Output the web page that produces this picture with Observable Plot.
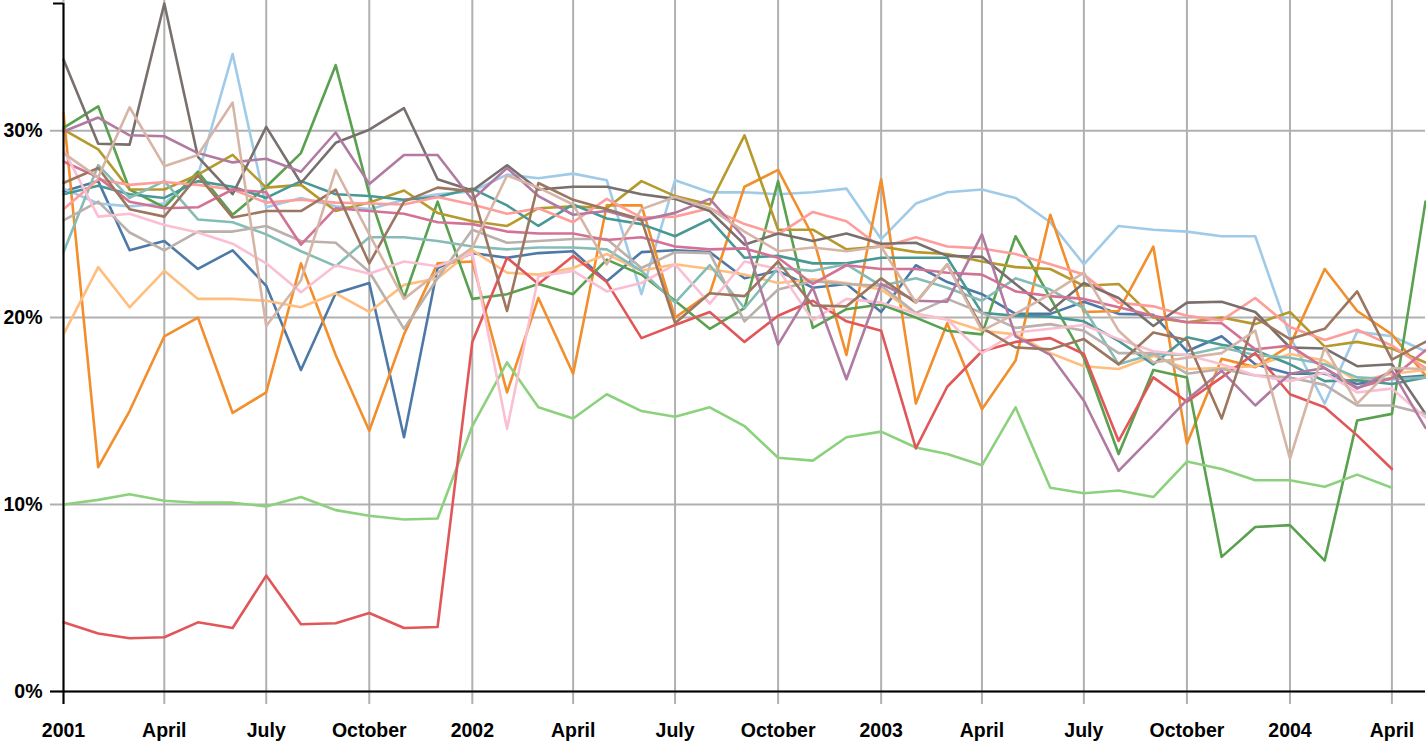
<!DOCTYPE html>
<html>
<head>
<meta charset="utf-8">
<script src="https://cdn.jsdelivr.net/npm/d3@7"></script>
<script src="https://cdn.jsdelivr.net/npm/@observablehq/plot@0.6"></script>
<style>
  html, body { margin: 0; padding: 0; background: #fff; }
  #chart svg { display: block; }
  #chart svg text { font-size: 19.5px; font-weight: bold; fill: #000; font-family: 'Liberation Sans', Arial, Helvetica, sans-serif; }
</style>
</head>
<body>
<div id="chart"></div>
<script>
// ---- data (percent values, monthly Jan 2001 .. May 2004) ----
const startMonth = "2001-01-01";
const endMonth = "2004-05-01";

const tickLabels = ["2001","April","July","October","2002","April","July","October","2003","April","July","October","2004","April"];
const yTicks = [0, 10, 20, 30];

const blue = [26.75,27.3,23.6,24.1,22.6,23.6,21.7,17.2,21.3,21.85,13.6,22.65,23.45,23.2,23.45,23.55,21.95,23.5,23.6,23.5,22.1,22.5,21.6,21.8,20.3,22.8,21.9,21.25,20.2,20.2,20.85,20.2,20.15,18.2,19.0,17.5,17.0,17.0,16.45,16.75,16.9];
const lightBlue = [26.9,26.1,25.95,26.1,27.6,34.1,25.9,26.4,25.95,25.8,26.3,26.6,26.75,27.65,27.45,27.7,27.35,21.25,27.35,26.7,26.7,26.6,26.7,26.9,24.2,26.1,26.7,26.85,26.4,25.1,22.85,24.9,24.7,24.6,24.35,24.35,19.0,15.4,19.25,19.0,18.2];
const orange = [30.95,12.0,15.0,19.0,20.0,14.9,16.0,22.9,18.0,13.95,19.1,22.9,23.0,16.0,21.05,17.0,26.0,26.0,20.0,21.3,27.0,27.9,24.35,18.0,27.4,15.4,19.7,15.1,17.7,25.5,20.3,20.35,23.8,13.25,17.8,17.35,18.5,22.6,20.35,19.1,16.9];
const lightOrange = [19.1,22.7,20.55,22.5,21.0,21.0,20.9,20.55,21.3,20.3,21.75,22.1,23.6,22.4,22.3,22.65,23.4,22.5,22.85,22.6,22.3,21.85,22.05,21.85,21.5,20.2,19.9,19.3,19.1,18.1,17.4,17.25,17.95,17.25,17.3,17.4,18.05,17.7,16.6,17.0,17.2];
const green = [30.15,31.3,26.85,25.9,27.8,25.5,27.0,28.8,33.5,26.6,21.05,26.2,21.0,21.25,21.8,21.25,23.1,22.3,20.9,19.4,20.5,27.3,19.45,20.45,20.7,20.0,19.3,19.1,24.35,21.05,17.85,12.7,17.2,16.8,7.2,8.8,8.9,7.0,14.5,14.85,26.2];
const lightGreen = [10.0,10.25,10.55,10.2,10.1,10.1,9.9,10.4,9.7,9.4,9.2,9.25,14.2,17.6,15.2,14.6,15.9,15.0,14.7,15.2,14.2,12.5,12.35,13.6,13.9,13.05,12.7,12.1,15.2,10.9,10.6,10.75,10.4,12.3,11.9,11.3,11.3,10.95,11.6,10.9];
const olive = [30.05,29.0,26.85,26.85,27.65,28.7,26.95,27.1,25.7,26.15,26.8,25.6,25.15,24.9,25.85,25.95,25.85,27.3,26.5,26.05,29.75,24.7,24.7,23.65,23.8,23.5,23.4,23.0,22.7,22.6,21.7,21.8,20.0,19.75,20.0,19.65,20.3,18.45,18.7,18.35,17.6];
const teal = [26.6,27.05,26.6,26.4,27.3,27.0,26.4,27.3,26.6,26.5,26.3,26.45,26.9,26.0,24.9,26.05,25.3,25.0,24.35,25.25,23.2,23.3,22.9,22.9,23.2,23.2,23.2,20.25,20.1,20.05,19.8,18.75,17.5,18.95,18.55,18.25,17.5,16.6,16.65,16.45,16.8];
const lightTeal = [23.5,28.15,26.4,27.3,25.25,25.1,24.45,23.55,22.75,24.3,24.3,24.1,23.8,23.65,23.75,23.75,23.65,22.5,20.8,22.8,20.5,22.65,22.5,22.85,21.7,22.1,21.6,20.9,22.1,21.5,20.5,17.5,18.05,18.0,18.4,18.0,17.85,17.5,16.8,16.7,16.8];
const red = [3.7,3.1,2.85,2.9,3.7,3.4,6.2,3.6,3.65,4.2,3.4,3.45,18.7,23.2,21.8,23.3,21.9,18.9,19.6,20.3,18.7,20.1,20.9,19.8,19.3,13.0,16.3,18.2,18.7,18.9,18.05,13.4,16.8,15.5,16.8,18.1,15.9,15.2,13.7,11.9];
const salmon = [25.8,27.4,27.1,27.25,27.1,26.85,26.15,26.3,26.15,26.1,26.05,26.45,26.05,25.55,25.85,25.1,26.35,25.35,25.4,25.85,25.0,24.45,25.65,25.15,23.75,24.3,23.8,23.7,23.4,22.85,22.3,20.8,20.6,20.1,19.85,21.05,19.5,18.8,19.35,18.5,17.3];
const gray = [33.8,29.3,29.25,36.8,28.6,26.6,30.2,27.2,29.35,30.05,31.2,27.4,26.8,28.15,26.85,27.0,27.0,26.6,26.35,25.7,23.9,24.5,24.1,24.5,23.95,24.0,23.3,23.25,21.8,20.35,21.85,21.05,19.55,20.8,20.85,20.3,18.4,18.35,17.4,17.5,14.85];
const lightGray = [25.2,26.2,24.55,23.6,24.6,24.6,24.9,24.1,24.0,22.45,19.4,22.1,24.7,24.0,24.1,24.2,24.2,22.65,23.5,23.45,19.8,21.5,21.95,21.8,21.7,20.25,21.0,20.25,19.45,19.65,19.3,18.1,18.1,17.0,17.25,16.9,16.8,16.4,15.3,15.3,14.85];
const pink = [28.35,27.5,26.2,25.85,25.9,26.85,26.7,23.9,25.85,25.7,25.55,25.1,25.0,24.6,24.5,24.5,24.15,24.3,23.8,23.65,23.7,23.2,21.8,22.8,22.6,22.6,22.4,22.3,21.4,21.15,21.0,20.55,20.1,19.75,19.7,18.3,18.5,17.3,16.25,16.75,18.25];
const lightPink = [29.0,25.4,25.55,24.95,24.55,23.95,22.9,21.35,22.8,22.35,23.0,22.75,23.45,14.05,22.2,22.5,21.4,21.85,22.85,20.75,23.0,22.6,19.85,21.0,20.8,20.2,19.9,18.1,19.2,19.4,19.6,18.85,18.2,18.0,17.5,16.9,16.6,17.05,16.0,16.2,14.65];
const purple = [29.95,30.7,29.75,29.7,28.8,28.3,28.5,27.8,29.9,27.15,28.7,28.7,26.3,28.0,26.5,25.5,25.7,25.2,25.6,26.35,24.25,18.55,21.6,16.7,21.8,20.9,20.85,24.45,19.0,18.0,15.55,11.8,13.7,15.6,17.15,15.3,17.0,17.3,16.2,17.15,14.1];
const brown = [27.2,28.0,25.8,25.4,27.6,25.35,25.7,25.7,26.85,22.9,26.2,26.95,26.75,20.35,27.2,26.3,25.8,25.25,19.7,21.3,21.15,23.0,20.65,20.6,22.1,20.8,22.85,19.45,18.4,18.3,18.85,17.5,19.2,18.8,14.6,20.0,18.85,19.4,21.4,17.75,18.7];
const tan = [28.8,27.5,31.25,28.1,28.7,31.5,19.55,22.0,27.9,24.45,21.0,22.4,23.75,27.6,26.95,26.05,22.85,25.8,26.45,25.85,24.6,23.55,23.75,23.55,23.8,20.8,22.85,19.3,20.2,21.25,22.4,19.3,17.6,17.85,18.1,19.3,12.45,18.4,15.4,17.3,17.25];

const seriesNames = ["blue","lightBlue","orange","lightOrange","green","lightGreen","olive","teal","lightTeal","red","salmon","gray","lightGray","pink","lightPink","purple","brown","tan"];
const seriesColors = ["#4e79a7","#a0cbe8","#f28e2b","#ffbe7d","#59a14f","#8cd17d","#b6992d","#499894","#86bcb6","#e15759","#ff9d9a","#79706e","#bab0ac","#d37295","#fabfd2","#b07aa1","#9d7660","#d7b5a6"];
const seriesValues = [blue,lightBlue,orange,lightOrange,green,lightGreen,olive,teal,lightTeal,red,salmon,gray,lightGray,pink,lightPink,purple,brown,tan];

// ---- build table ----
const start = new Date(startMonth + "T00:00:00Z");
const end = new Date(endMonth + "T00:00:00Z");
const months = d3.utcMonth.range(start, d3.utcMonth.offset(end, 1));
const data = seriesNames.flatMap((name, k) =>
  seriesValues[k].map((v, i) => ({name, date: months[i], value: v}))
);
const xTicks = d3.utcMonth.every(3).range(start, d3.utcMonth.offset(end, 1));
const yMax = d3.max(data, d => d.value);

const gridColor = "#b0b0b0";
const fontSize = 19.5;

const chart = Plot.plot({
  width: 1426,
  height: 742,
  marginLeft: 63,
  marginRight: 1,
  marginTop: 3,
  marginBottom: 51,
  style: {fontFamily: "'Liberation Sans', Arial, Helvetica, sans-serif", fontSize: fontSize + "px", fontWeight: "bold", color: "#000", background: "#fff"},
  x: {type: "utc", domain: [start, end], label: null},
  y: {domain: [0, yMax], label: null},
  color: {domain: seriesNames, range: seriesColors},
  marks: [
    // grid
    Plot.ruleX(xTicks, {stroke: gridColor, strokeWidth: 2, insetTop: -3, insetBottom: -13}),
    Plot.ruleY(yTicks, {stroke: gridColor, strokeWidth: 2, insetLeft: -13}),
    // axes
    Plot.axisX({ticks: xTicks, tickSize: 0, tickPadding: 32, label: null, tickFormat: (d, i) => tickLabels[i], fontSize, fontWeight: "bold", fill: "#000"}),
    Plot.axisY({ticks: yTicks, tickSize: 0, tickPadding: 21, label: null, tickFormat: d => d + "%", fontSize, fontWeight: "bold", fill: "#000"}),
    // lines
    Plot.line(data, {x: "date", y: "value", z: "name", stroke: "name", strokeWidth: 2.6, curve: "linear"}),
    // axis lines
    Plot.ruleY([0], {stroke: "#000", strokeWidth: 2, insetLeft: -13}),
    Plot.ruleX([start], {stroke: "#000", strokeWidth: 2, insetBottom: -13}),
    Plot.ruleY([yMax], {x1: start, x2: start, stroke: "#000", strokeWidth: 2, insetLeft: -10})
  ]
});
document.getElementById("chart").appendChild(chart);
</script>
</body>
</html>
